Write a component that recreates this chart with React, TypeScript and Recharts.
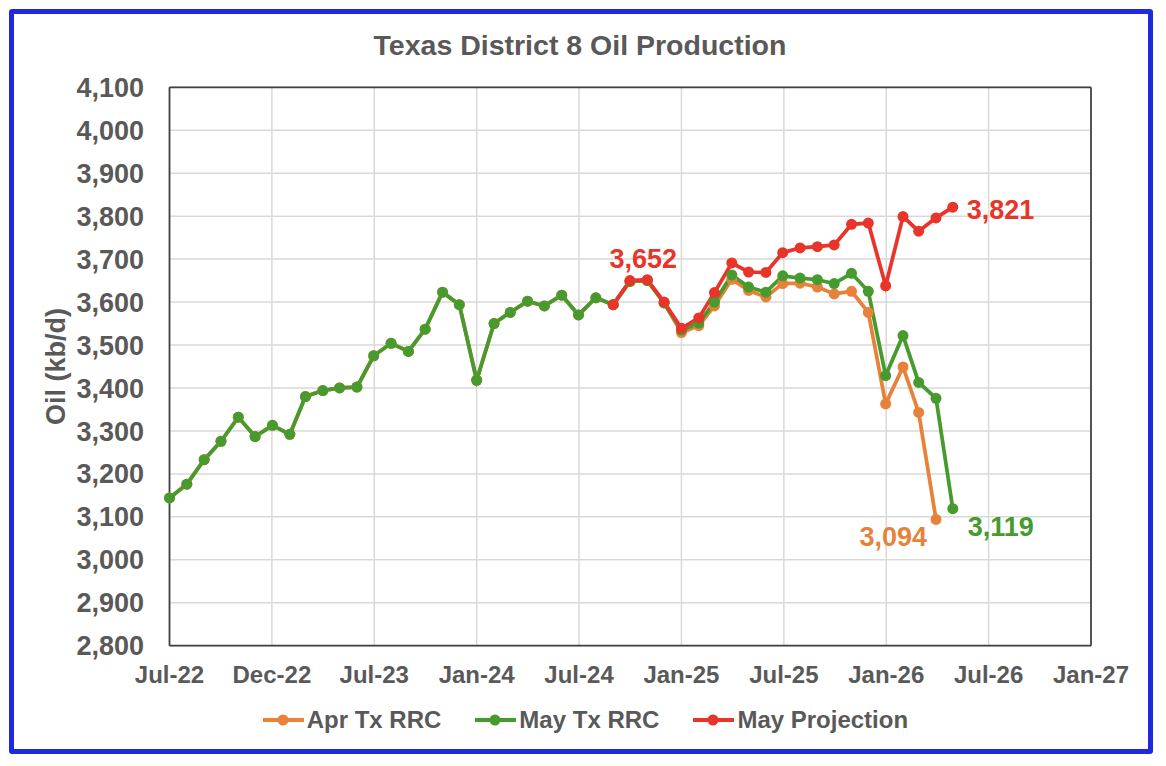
import React from 'react';
import {
  LineChart,
  Line,
  XAxis,
  YAxis,
  CartesianGrid,
  ReferenceLine,
  Legend,
  LabelList,
} from 'recharts';

const FONT = '"Liberation Sans", Arial, Helvetica, sans-serif';

// Monthly categories (first of month)
const MONTHS = [
  '2022-07', '2022-08', '2022-09', '2022-10', '2022-11', '2022-12',
  '2023-01', '2023-02', '2023-03', '2023-04', '2023-05', '2023-06',
  '2023-07', '2023-08', '2023-09', '2023-10', '2023-11', '2023-12',
  '2024-01', '2024-02', '2024-03', '2024-04', '2024-05', '2024-06',
  '2024-07', '2024-08', '2024-09', '2024-10', '2024-11', '2024-12',
  '2025-01', '2025-02', '2025-03', '2025-04', '2025-05', '2025-06',
  '2025-07', '2025-08', '2025-09', '2025-10', '2025-11', '2025-12',
  '2026-01', '2026-02', '2026-03', '2026-04', '2026-05',
];

const APR_TX_RRC = [
  3144, 3176, 3233, 3276, 3332, 3287,
  3313, 3292, 3380, 3394, 3400, 3402,
  3475, 3504, 3485, 3537, 3623, 3594,
  3418, 3550, 3576, 3602, 3591, 3616,
  3570, 3610, 3594, 3648, 3650, 3598,
  3529, 3545, 3591, 3653, 3627, 3612,
  3643, 3644, 3635, 3619, 3625, 3576,
  3363, 3449, 3343, 3094, null,
];

const MAY_TX_RRC = [
  3144, 3176, 3233, 3276, 3332, 3287,
  3313, 3292, 3380, 3394, 3400, 3402,
  3475, 3504, 3485, 3537, 3623, 3594,
  3418, 3550, 3576, 3602, 3591, 3616,
  3570, 3610, 3594, 3648, 3650, 3598,
  3535, 3551, 3600, 3663, 3635, 3623,
  3661, 3656, 3652, 3643, 3667, 3625,
  3429, 3522, 3413, 3376, 3119,
];

const MAY_PROJECTION = [
  null, null, null, null, null, null,
  null, null, null, null, null, null,
  null, null, null, null, null, null,
  null, null, null, null, null, null,
  null, null, 3594, 3650, 3652, 3600,
  3539, 3563, 3622, 3691, 3670, 3669,
  3715, 3726, 3729, 3733, 3781, 3784,
  3638, 3799, 3765, 3796, 3821,
];

const SERIES_NAMES = ['Apr Tx RRC', 'May Tx RRC', 'May Projection'];

// Date axis: Excel-style major unit of 183 days starting Jul 1 2022
const X_TICK_DAYS = [0, 183, 366, 549, 732, 915, 1098, 1281, 1464, 1647];
const X_TICK_LABELS = ['Jul-22', 'Dec-22', 'Jul-23', 'Jan-24', 'Jul-24', 'Jan-25', 'Jul-25', 'Jan-26', 'Jul-26', 'Jan-27'];
const Y_TICKS = [2800, 2900, 3000, 3100, 3200, 3300, 3400, 3500, 3600, 3700, 3800, 3900, 4000, 4100];

const COLOR_APR = '#E6823A';
const COLOR_MAY = '#479A2E';
const COLOR_PROJ = '#E9342A';
const TEXT_GREY = '#595959';
const FRAME = '#404040';

const ORIGIN = Date.UTC(2022, 6, 1);
const toDay = (m: string) => {
  const [y, mo] = m.split('-').map(Number);
  return Math.round((Date.UTC(y, mo - 1, 1) - ORIGIN) / 86400000);
};

const DATA = MONTHS.map((m, i) => ({
  month: m,
  day: toDay(m),
  apr: APR_TX_RRC[i],
  may: MAY_TX_RRC[i],
  proj: MAY_PROJECTION[i],
}));

const fmt = (v: number) => Number(v).toLocaleString('en-US');

const pointLabel =
  (color: string, at: number, dx: number, dy: number, anchor: 'start' | 'middle' | 'end') =>
  (props: any) => {
    const { index, value } = props;
    const px = props.x ?? props.viewBox?.x;
    const py = props.y ?? props.viewBox?.y;
    if (index !== at || value == null || px == null || py == null) return null;
    return (
      <text
        x={px + dx}
        y={py + dy}
        fill={color}
        textAnchor={anchor}
        fontSize={27}
        fontWeight={700}
        fontFamily={FONT}
      >
        {fmt(value)}
      </text>
    );
  };

const YLabel = (props: any) => {
  const vb = props.viewBox || { x: 0, y: 87.3, width: 169.5, height: 558.4 };
  const cx = 55.5;
  const cy = vb.y + vb.height / 2;
  return (
    <text
      x={cx}
      y={cy}
      transform={`rotate(-90, ${cx}, ${cy})`}
      textAnchor="middle"
      dominantBaseline="central"
      fill={TEXT_GREY}
      fontSize={27}
      fontWeight={700}
      fontFamily={FONT}
    >
      Oil (kb/d)
    </text>
  );
};

const LegendContent = (props: any) => {
  const payload = [...(props.payload || [])].sort(
    (a: any, b: any) => SERIES_NAMES.indexOf(a.value) - SERIES_NAMES.indexOf(b.value)
  );
  return (
    <div style={{ display: 'flex', alignItems: 'center', whiteSpace: 'nowrap' }}>
      {payload.map((p: any, i: number) => (
        <div
          key={p.value}
          style={{ display: 'flex', alignItems: 'center', marginLeft: i === 0 ? 0 : 34 }}
        >
          <svg width={41} height={14} style={{ display: 'block' }}>
            <line x1={0} y1={7} x2={41} y2={7} stroke={p.color} strokeWidth={4} />
            <circle cx={20} cy={7} r={5.5} fill={p.color} />
          </svg>
          <span
            style={{
              marginLeft: 3,
              fontFamily: FONT,
              fontSize: 24,
              fontWeight: 700,
              color: TEXT_GREY,
            }}
          >
            {p.value}
          </span>
        </div>
      ))}
    </div>
  );
};

export default function App() {
  return (
    <div style={{ position: 'absolute', left: 0, top: 0, width: 1166, height: 766, background: '#fff' }}>
      <div
        style={{
          position: 'absolute',
          left: 9,
          top: 9,
          width: 1144,
          height: 745,
          border: '5.5px solid #2129DC',
          boxSizing: 'border-box',
          borderRadius: 3,
        }}
      />
      <div
        style={{
          position: 'absolute',
          left: 0,
          top: 31.3,
          width: 1160,
          textAlign: 'center',
          fontFamily: FONT,
          fontSize: 28.5,
          fontWeight: 700,
          lineHeight: '28px',
          color: TEXT_GREY,
        }}
      >
        Texas District 8 Oil Production
      </div>
      <div style={{ position: 'absolute', left: 0, top: 0 }}>
        <LineChart
          width={1166}
          height={766}
          data={DATA}
          margin={{ top: 87.3, right: 75, bottom: 60.3, left: 0 }}
        >
          <CartesianGrid stroke="#D9D9D9" strokeWidth={1.5} />
          <XAxis
            type="number"
            dataKey="day"
            domain={[0, 1647]}
            ticks={X_TICK_DAYS}
            interval={0}
            tickFormatter={(v: number) => X_TICK_LABELS[X_TICK_DAYS.indexOf(v)] ?? ''}
            tickLine={false}
            tickSize={0}
            tickMargin={20}
            height={60}
            axisLine={{ stroke: FRAME, strokeWidth: 1.75 }}
            tick={{ fill: TEXT_GREY, fontSize: 24, fontWeight: 700, fontFamily: FONT }}
          />
          <YAxis
            type="number"
            domain={[2800, 4100]}
            ticks={Y_TICKS}
            interval={0}
            width={169.5}
            tickLine={false}
            tickSize={0}
            tickMargin={25.5}
            tickFormatter={(v: number) => fmt(v)}
            axisLine={{ stroke: FRAME, strokeWidth: 1.75 }}
            tick={{ fill: TEXT_GREY, fontSize: 27, fontWeight: 700, fontFamily: FONT }}
            label={<YLabel />}
          />
          <ReferenceLine y={4100} stroke={FRAME} strokeWidth={1.75} />
          <ReferenceLine x={1647} stroke={FRAME} strokeWidth={1.75} />
          <Legend
            layout="horizontal"
            verticalAlign="middle"
            align="center"
            itemSorter={null as any}
            wrapperStyle={{ position: 'absolute', left: 262.7, top: 706, width: 'auto', height: 'auto' }}
            content={<LegendContent />}
          />
          <Line
            type="linear"
            dataKey="apr"
            name="Apr Tx RRC"
            stroke={COLOR_APR}
            strokeWidth={3.75}
            dot={{ r: 5.5, fill: COLOR_APR, stroke: COLOR_APR, strokeWidth: 0 }}
            activeDot={false}
            isAnimationActive={false}
          >
            <LabelList dataKey="apr" content={pointLabel(COLOR_APR, 45, -9, 26.3, 'end')} />
          </Line>
          <Line
            type="linear"
            dataKey="may"
            name="May Tx RRC"
            stroke={COLOR_MAY}
            strokeWidth={3.75}
            dot={{ r: 5.5, fill: COLOR_MAY, stroke: COLOR_MAY, strokeWidth: 0 }}
            activeDot={false}
            isAnimationActive={false}
          >
            <LabelList dataKey="may" content={pointLabel(COLOR_MAY, 46, 15, 27.6, 'start')} />
          </Line>
          <Line
            type="linear"
            dataKey="proj"
            name="May Projection"
            stroke={COLOR_PROJ}
            strokeWidth={3.75}
            dot={{ r: 5.5, fill: COLOR_PROJ, stroke: COLOR_PROJ, strokeWidth: 0 }}
            activeDot={false}
            isAnimationActive={false}
          >
            <LabelList dataKey="proj" content={pointLabel(COLOR_PROJ, 28, -4, -12, 'middle')} />
            <LabelList dataKey="proj" content={pointLabel(COLOR_PROJ, 46, 14, 11.6, 'start')} />
          </Line>
        </LineChart>
      </div>
    </div>
  );
}
